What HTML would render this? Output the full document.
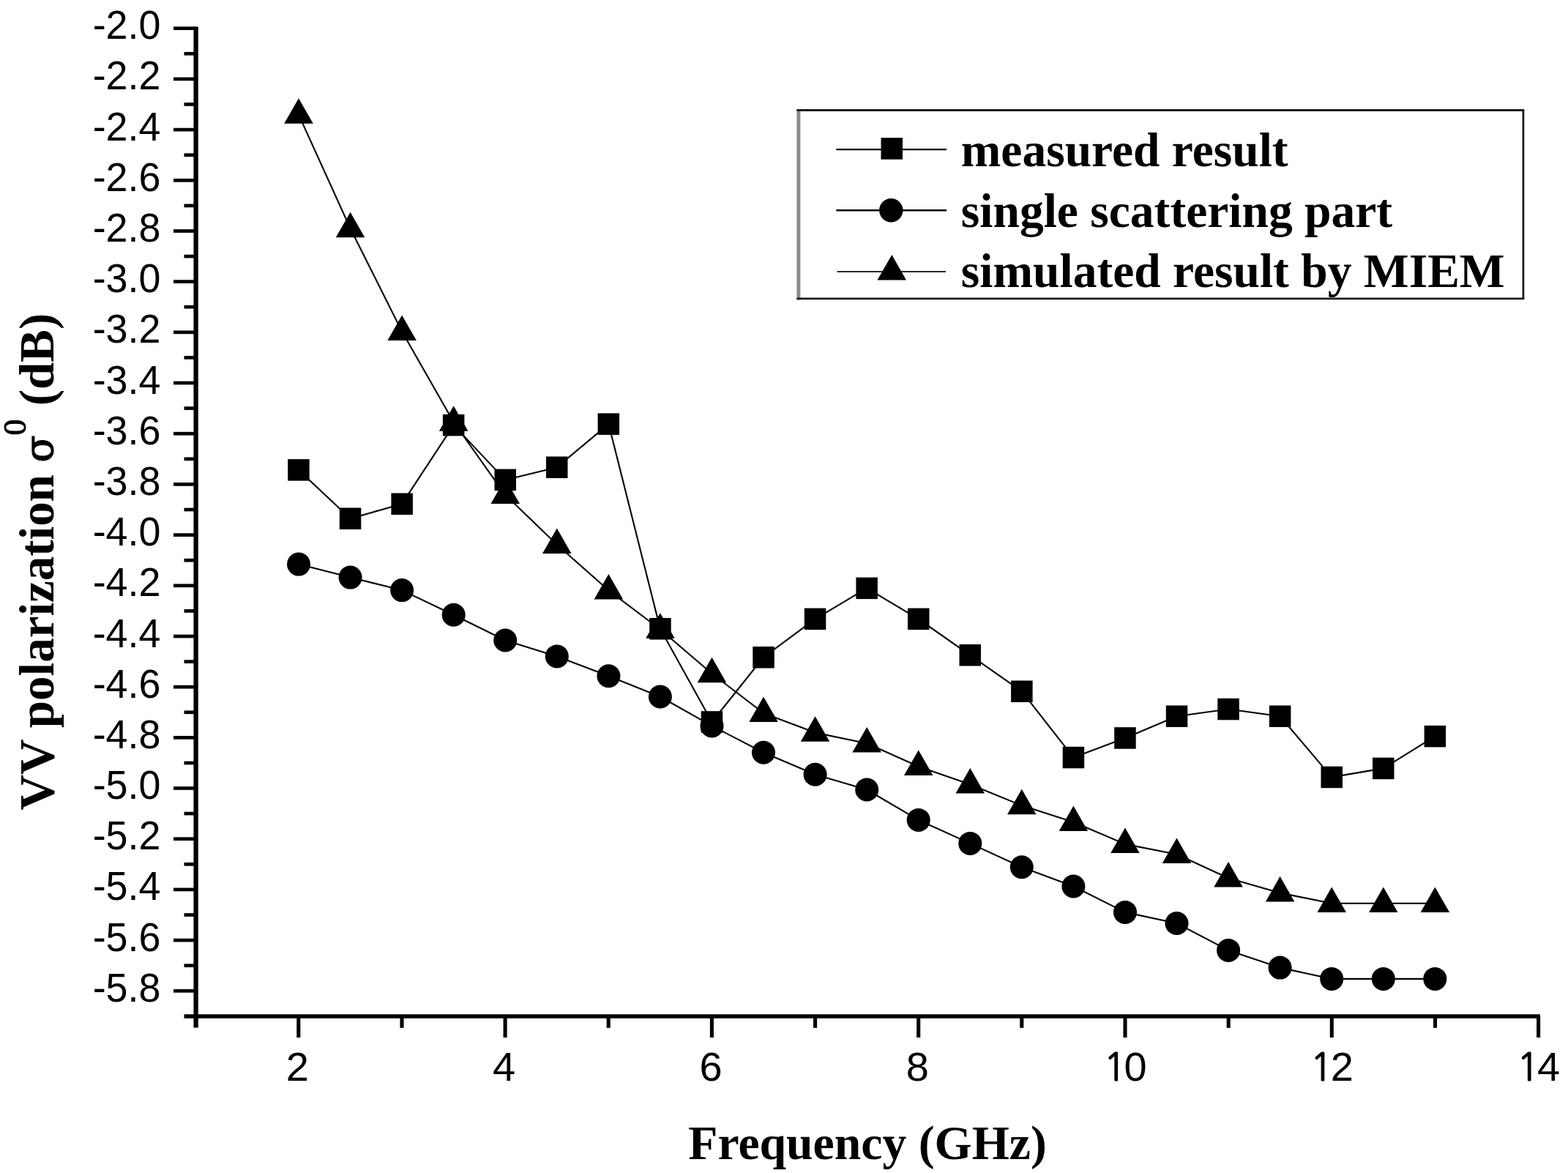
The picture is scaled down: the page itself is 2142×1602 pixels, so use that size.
<!DOCTYPE html>
<html lang="en">
<head>
<meta charset="utf-8">
<title>VV polarization vs Frequency</title>
<style>
html,body{margin:0;padding:0;background:#fff;}
body{width:2142px;height:1602px;overflow:hidden;}
svg{display:block;}
.tick{font-family:"Liberation Sans",Arial,Helvetica,sans-serif;font-size:56px;fill:#000;}
.ttl{font-family:"Liberation Serif","Times New Roman",Times,serif;font-weight:bold;font-size:65.5px;fill:#000;}
</style>
</head>
<body>
<svg width="2142" height="1602" viewBox="0 0 2142 1602">
<rect x="0" y="0" width="2142" height="1602" fill="#fff"/>
<g stroke="#000" fill="none" stroke-linecap="butt">
<line x1="267.6" y1="36.4" x2="267.6" y2="1403.5" stroke-width="6.3"/>
<line x1="251.5" y1="1388.0" x2="2103.8" y2="1388.0" stroke-width="5.3"/>
<line x1="237" y1="38.7" x2="267.6" y2="38.7" stroke-width="4.7"/>
<line x1="251.5" y1="73.3" x2="267.6" y2="73.3" stroke-width="4.7"/>
<line x1="237" y1="107.9" x2="267.6" y2="107.9" stroke-width="4.7"/>
<line x1="251.5" y1="142.5" x2="267.6" y2="142.5" stroke-width="4.7"/>
<line x1="237" y1="177.1" x2="267.6" y2="177.1" stroke-width="4.7"/>
<line x1="251.5" y1="211.7" x2="267.6" y2="211.7" stroke-width="4.7"/>
<line x1="237" y1="246.3" x2="267.6" y2="246.3" stroke-width="4.7"/>
<line x1="251.5" y1="280.9" x2="267.6" y2="280.9" stroke-width="4.7"/>
<line x1="237" y1="315.5" x2="267.6" y2="315.5" stroke-width="4.7"/>
<line x1="251.5" y1="350.1" x2="267.6" y2="350.1" stroke-width="4.7"/>
<line x1="237" y1="384.6" x2="267.6" y2="384.6" stroke-width="4.7"/>
<line x1="251.5" y1="419.2" x2="267.6" y2="419.2" stroke-width="4.7"/>
<line x1="237" y1="453.8" x2="267.6" y2="453.8" stroke-width="4.7"/>
<line x1="251.5" y1="488.4" x2="267.6" y2="488.4" stroke-width="4.7"/>
<line x1="237" y1="523.0" x2="267.6" y2="523.0" stroke-width="4.7"/>
<line x1="251.5" y1="557.6" x2="267.6" y2="557.6" stroke-width="4.7"/>
<line x1="237" y1="592.2" x2="267.6" y2="592.2" stroke-width="4.7"/>
<line x1="251.5" y1="626.8" x2="267.6" y2="626.8" stroke-width="4.7"/>
<line x1="237" y1="661.4" x2="267.6" y2="661.4" stroke-width="4.7"/>
<line x1="251.5" y1="696.0" x2="267.6" y2="696.0" stroke-width="4.7"/>
<line x1="237" y1="730.6" x2="267.6" y2="730.6" stroke-width="4.7"/>
<line x1="251.5" y1="765.2" x2="267.6" y2="765.2" stroke-width="4.7"/>
<line x1="237" y1="799.8" x2="267.6" y2="799.8" stroke-width="4.7"/>
<line x1="251.5" y1="834.4" x2="267.6" y2="834.4" stroke-width="4.7"/>
<line x1="237" y1="869.0" x2="267.6" y2="869.0" stroke-width="4.7"/>
<line x1="251.5" y1="903.6" x2="267.6" y2="903.6" stroke-width="4.7"/>
<line x1="237" y1="938.2" x2="267.6" y2="938.2" stroke-width="4.7"/>
<line x1="251.5" y1="972.8" x2="267.6" y2="972.8" stroke-width="4.7"/>
<line x1="237" y1="1007.4" x2="267.6" y2="1007.4" stroke-width="4.7"/>
<line x1="251.5" y1="1042.0" x2="267.6" y2="1042.0" stroke-width="4.7"/>
<line x1="237" y1="1076.5" x2="267.6" y2="1076.5" stroke-width="4.7"/>
<line x1="251.5" y1="1111.1" x2="267.6" y2="1111.1" stroke-width="4.7"/>
<line x1="237" y1="1145.7" x2="267.6" y2="1145.7" stroke-width="4.7"/>
<line x1="251.5" y1="1180.3" x2="267.6" y2="1180.3" stroke-width="4.7"/>
<line x1="237" y1="1214.9" x2="267.6" y2="1214.9" stroke-width="4.7"/>
<line x1="251.5" y1="1249.5" x2="267.6" y2="1249.5" stroke-width="4.7"/>
<line x1="237" y1="1284.1" x2="267.6" y2="1284.1" stroke-width="4.7"/>
<line x1="251.5" y1="1318.7" x2="267.6" y2="1318.7" stroke-width="4.7"/>
<line x1="237" y1="1353.3" x2="267.6" y2="1353.3" stroke-width="4.7"/>
<line x1="407.8" y1="1388.0" x2="407.8" y2="1417" stroke-width="5.1"/>
<line x1="549.0" y1="1388.0" x2="549.0" y2="1403.8" stroke-width="5.1"/>
<line x1="690.1" y1="1388.0" x2="690.1" y2="1417" stroke-width="5.1"/>
<line x1="831.2" y1="1388.0" x2="831.2" y2="1403.8" stroke-width="5.1"/>
<line x1="972.4" y1="1388.0" x2="972.4" y2="1417" stroke-width="5.1"/>
<line x1="1113.6" y1="1388.0" x2="1113.6" y2="1403.8" stroke-width="5.1"/>
<line x1="1254.7" y1="1388.0" x2="1254.7" y2="1417" stroke-width="5.1"/>
<line x1="1395.8" y1="1388.0" x2="1395.8" y2="1403.8" stroke-width="5.1"/>
<line x1="1537.0" y1="1388.0" x2="1537.0" y2="1417" stroke-width="5.1"/>
<line x1="1678.2" y1="1388.0" x2="1678.2" y2="1403.8" stroke-width="5.1"/>
<line x1="1819.3" y1="1388.0" x2="1819.3" y2="1417" stroke-width="5.1"/>
<line x1="1960.5" y1="1388.0" x2="1960.5" y2="1403.8" stroke-width="5.1"/>
<line x1="2101.6" y1="1388.0" x2="2101.6" y2="1417" stroke-width="5.1"/>
</g>
<g class="tick" text-anchor="end">
<text transform="translate(219.5 53.2) scale(0.962 1.0)" x="0" y="0">-2.0</text>
<text transform="translate(219.5 122.4) scale(0.962 1.0)" x="0" y="0">-2.2</text>
<text transform="translate(219.5 191.6) scale(0.962 1.0)" x="0" y="0">-2.4</text>
<text transform="translate(219.5 260.8) scale(0.962 1.0)" x="0" y="0">-2.6</text>
<text transform="translate(219.5 330.0) scale(0.962 1.0)" x="0" y="0">-2.8</text>
<text transform="translate(219.5 399.1) scale(0.962 1.0)" x="0" y="0">-3.0</text>
<text transform="translate(219.5 468.3) scale(0.962 1.0)" x="0" y="0">-3.2</text>
<text transform="translate(219.5 537.5) scale(0.962 1.0)" x="0" y="0">-3.4</text>
<text transform="translate(219.5 606.7) scale(0.962 1.0)" x="0" y="0">-3.6</text>
<text transform="translate(219.5 675.9) scale(0.962 1.0)" x="0" y="0">-3.8</text>
<text transform="translate(219.5 745.1) scale(0.962 1.0)" x="0" y="0">-4.0</text>
<text transform="translate(219.5 814.3) scale(0.962 1.0)" x="0" y="0">-4.2</text>
<text transform="translate(219.5 883.5) scale(0.962 1.0)" x="0" y="0">-4.4</text>
<text transform="translate(219.5 952.7) scale(0.962 1.0)" x="0" y="0">-4.6</text>
<text transform="translate(219.5 1021.9) scale(0.962 1.0)" x="0" y="0">-4.8</text>
<text transform="translate(219.5 1091.0) scale(0.962 1.0)" x="0" y="0">-5.0</text>
<text transform="translate(219.5 1160.2) scale(0.962 1.0)" x="0" y="0">-5.2</text>
<text transform="translate(219.5 1229.4) scale(0.962 1.0)" x="0" y="0">-5.4</text>
<text transform="translate(219.5 1298.6) scale(0.962 1.0)" x="0" y="0">-5.6</text>
<text transform="translate(219.5 1367.8) scale(0.962 1.0)" x="0" y="0">-5.8</text>
</g>
<g class="tick" text-anchor="middle">
<text x="406.4" y="1476.2">2</text>
<text x="688.7" y="1476.2">4</text>
<text x="971.0" y="1476.2">6</text>
<text x="1253.3" y="1476.2">8</text>
<text x="1507.4" y="1476.2" text-anchor="start"><tspan font-family="NanumGothic, Liberation Sans, sans-serif" font-size="51.5" stroke="#000" stroke-width="1.2" dy="-0.5">1</tspan><tspan x="1535.5" dy="0.5">0</tspan></text>
<text x="1789.7" y="1476.2" text-anchor="start"><tspan font-family="NanumGothic, Liberation Sans, sans-serif" font-size="51.5" stroke="#000" stroke-width="1.2" dy="-0.5">1</tspan><tspan x="1817.8" dy="0.5">2</tspan></text>
<text x="2072.0" y="1476.2" text-anchor="start"><tspan font-family="NanumGothic, Liberation Sans, sans-serif" font-size="51.5" stroke="#000" stroke-width="1.2" dy="-0.5">1</tspan><tspan x="2100.1" dy="0.5">4</tspan></text>
</g>
<text class="ttl" transform="translate(940.3 1582.8) scale(1 0.995)" style="font-size:65.7px">Frequency (GHz)</text>
<g transform="translate(73.3 1106.5) rotate(-90) scale(1 1.012)" fill="#000">
<text x="0" y="0" font-family="Liberation Serif, Times New Roman, serif" font-weight="bold" font-size="67">VV polarization</text>
<text x="475" y="-0.8" font-family="DejaVu Serif, Liberation Serif, serif" font-size="54" stroke="#000" stroke-width="1.3">σ</text>
<text x="512" y="-37.6" font-family="Liberation Serif, Times New Roman, serif" font-size="44" stroke="#000" stroke-width="1">0</text>
<text x="552.2" y="0" font-family="Liberation Serif, Times New Roman, serif" font-weight="bold" font-size="67">(dB)</text>
</g>
<g stroke="#000" stroke-width="2.1" fill="none" stroke-linejoin="round">
<polyline points="408.0,641.9 478.6,708.3 549.1,688.2 619.7,580.6 690.2,655.4 760.8,638.2 831.4,579.1 901.9,858.7 972.5,986.0 1043.0,897.7 1113.6,845.4 1184.2,803.4 1254.7,845.4 1325.3,894.8 1395.8,944.2 1466.4,1034.5 1537.0,1008.0 1607.5,978.2 1678.1,968.5 1748.6,978.2 1819.2,1061.4 1889.8,1049.4 1960.3,1005.6"/>
<polyline points="408.0,770.6 478.6,788.6 549.1,806.1 619.7,839.7 690.2,874.5 760.8,896.4 831.4,923.3 901.9,951.5 972.5,991.4 1043.0,1027.8 1113.6,1057.8 1184.2,1078.5 1254.7,1119.9 1325.3,1151.9 1395.8,1184.2 1466.4,1210.5 1537.0,1245.9 1607.5,1261.0 1678.1,1297.9 1748.6,1321.6 1819.2,1336.9 1889.8,1336.9 1960.3,1336.9"/>
<polyline points="408.0,156.6 478.6,312.0 549.1,452.7 619.7,576.5 690.2,675.8 760.8,743.8 831.4,806.3 901.9,859.5 972.5,920.0 1043.0,973.9 1113.6,1000.6 1184.2,1015.2 1254.7,1046.7 1325.3,1071.3 1395.8,1100.1 1466.4,1122.7 1537.0,1152.9 1607.5,1166.7 1678.1,1199.3 1748.6,1219.4 1819.2,1233.8 1889.8,1233.8 1960.3,1233.8"/>
</g>
<g fill="#000" stroke="none">
<rect x="393.2" y="627.1" width="29.5" height="29.5"/>
<rect x="463.8" y="693.5" width="29.5" height="29.5"/>
<rect x="534.4" y="673.5" width="29.5" height="29.5"/>
<rect x="604.9" y="565.9" width="29.5" height="29.5"/>
<rect x="675.5" y="640.6" width="29.5" height="29.5"/>
<rect x="746.0" y="623.5" width="29.5" height="29.5"/>
<rect x="816.6" y="564.4" width="29.5" height="29.5"/>
<rect x="887.2" y="844.0" width="29.5" height="29.5"/>
<rect x="957.7" y="971.2" width="29.5" height="29.5"/>
<rect x="1028.3" y="883.0" width="29.5" height="29.5"/>
<rect x="1098.8" y="830.6" width="29.5" height="29.5"/>
<rect x="1169.4" y="788.6" width="29.5" height="29.5"/>
<rect x="1240.0" y="830.6" width="29.5" height="29.5"/>
<rect x="1310.5" y="880.0" width="29.5" height="29.5"/>
<rect x="1381.1" y="929.5" width="29.5" height="29.5"/>
<rect x="1451.7" y="1019.8" width="29.5" height="29.5"/>
<rect x="1522.2" y="993.2" width="29.5" height="29.5"/>
<rect x="1592.8" y="963.5" width="29.5" height="29.5"/>
<rect x="1663.3" y="953.8" width="29.5" height="29.5"/>
<rect x="1733.9" y="963.5" width="29.5" height="29.5"/>
<rect x="1804.5" y="1046.7" width="29.5" height="29.5"/>
<rect x="1875.0" y="1034.7" width="29.5" height="29.5"/>
<rect x="1945.6" y="990.9" width="29.5" height="29.5"/>
<circle cx="408.0" cy="770.6" r="16.0"/>
<circle cx="478.6" cy="788.6" r="16.0"/>
<circle cx="549.1" cy="806.1" r="16.0"/>
<circle cx="619.7" cy="839.7" r="16.0"/>
<circle cx="690.2" cy="874.5" r="16.0"/>
<circle cx="760.8" cy="896.4" r="16.0"/>
<circle cx="831.4" cy="923.3" r="16.0"/>
<circle cx="901.9" cy="951.5" r="16.0"/>
<circle cx="972.5" cy="991.4" r="16.0"/>
<circle cx="1043.0" cy="1027.8" r="16.0"/>
<circle cx="1113.6" cy="1057.8" r="16.0"/>
<circle cx="1184.2" cy="1078.5" r="16.0"/>
<circle cx="1254.7" cy="1119.9" r="16.0"/>
<circle cx="1325.3" cy="1151.9" r="16.0"/>
<circle cx="1395.8" cy="1184.2" r="16.0"/>
<circle cx="1466.4" cy="1210.5" r="16.0"/>
<circle cx="1537.0" cy="1245.9" r="16.0"/>
<circle cx="1607.5" cy="1261.0" r="16.0"/>
<circle cx="1678.1" cy="1297.9" r="16.0"/>
<circle cx="1748.6" cy="1321.6" r="16.0"/>
<circle cx="1819.2" cy="1336.9" r="16.0"/>
<circle cx="1889.8" cy="1336.9" r="16.0"/>
<circle cx="1960.3" cy="1336.9" r="16.0"/>
<polygon points="408.0,134.3 427.8,168.8 388.2,168.8"/>
<polygon points="478.6,289.7 498.3,324.2 458.8,324.2"/>
<polygon points="549.1,430.4 568.9,464.9 529.4,464.9"/>
<polygon points="619.7,554.2 639.4,588.7 599.9,588.7"/>
<polygon points="690.2,653.5 710.0,688.0 670.5,688.0"/>
<polygon points="760.8,721.5 780.5,756.0 741.0,756.0"/>
<polygon points="831.4,784.0 851.1,818.5 811.6,818.5"/>
<polygon points="901.9,837.2 921.7,871.7 882.2,871.7"/>
<polygon points="972.5,897.7 992.2,932.2 952.7,932.2"/>
<polygon points="1043.0,951.6 1062.8,986.1 1023.3,986.1"/>
<polygon points="1113.6,978.3 1133.3,1012.8 1093.8,1012.8"/>
<polygon points="1184.2,992.9 1203.9,1027.4 1164.4,1027.4"/>
<polygon points="1254.7,1024.4 1274.5,1058.9 1235.0,1058.9"/>
<polygon points="1325.3,1049.0 1345.0,1083.5 1305.5,1083.5"/>
<polygon points="1395.8,1077.8 1415.6,1112.3 1376.1,1112.3"/>
<polygon points="1466.4,1100.4 1486.2,1134.9 1446.7,1134.9"/>
<polygon points="1537.0,1130.6 1556.7,1165.1 1517.2,1165.1"/>
<polygon points="1607.5,1144.4 1627.3,1178.9 1587.8,1178.9"/>
<polygon points="1678.1,1177.0 1697.8,1211.5 1658.3,1211.5"/>
<polygon points="1748.6,1197.1 1768.4,1231.6 1728.9,1231.6"/>
<polygon points="1819.2,1211.5 1839.0,1246.0 1799.5,1246.0"/>
<polygon points="1889.8,1211.5 1909.5,1246.0 1870.0,1246.0"/>
<polygon points="1960.3,1211.5 1980.1,1246.0 1940.6,1246.0"/>
</g>
<rect x="1089" y="149.2" width="993.2" height="260" fill="#fff"/>
<line x1="1090.9" y1="149.2" x2="1090.9" y2="409.4" stroke="#8a8a8a" stroke-width="5"/>
<g stroke="#1c1c1c" stroke-width="2.8" stroke-linecap="butt">
<line x1="1088.4" y1="150.5" x2="2082.3" y2="150.5"/>
<line x1="2080.9" y1="150.5" x2="2080.9" y2="407.9"/>
<line x1="1088.4" y1="407.9" x2="2082.3" y2="407.9"/>
</g>
<g stroke="#000" stroke-width="2.1">
<line x1="1142.4" y1="204.1" x2="1293" y2="204.1" stroke-width="2.4"/>
<line x1="1142.4" y1="287.3" x2="1293" y2="287.3" stroke-width="2.4"/>
<line x1="1143.5" y1="371" x2="1292" y2="371" stroke="#2a2a2a" stroke-width="1.9"/>
</g>
<g fill="#000">
<rect x="1203.5" y="188.2" width="29.5" height="29.5"/>
<circle cx="1217.3" cy="287.3" r="16.2"/>
<polygon points="1218.3,348.0 1238.0,382.5 1198.5,382.5"/>
</g>
<text class="ttl" transform="translate(1312.8 227.2) scale(1 0.985)">measured result</text>
<text class="ttl" transform="translate(1312.8 310) scale(1 0.985)">single scattering part</text>
<text class="ttl" transform="translate(1312.8 391.8) scale(1 0.985)">simulated result by MIEM</text>
</svg>
</body>
</html>
